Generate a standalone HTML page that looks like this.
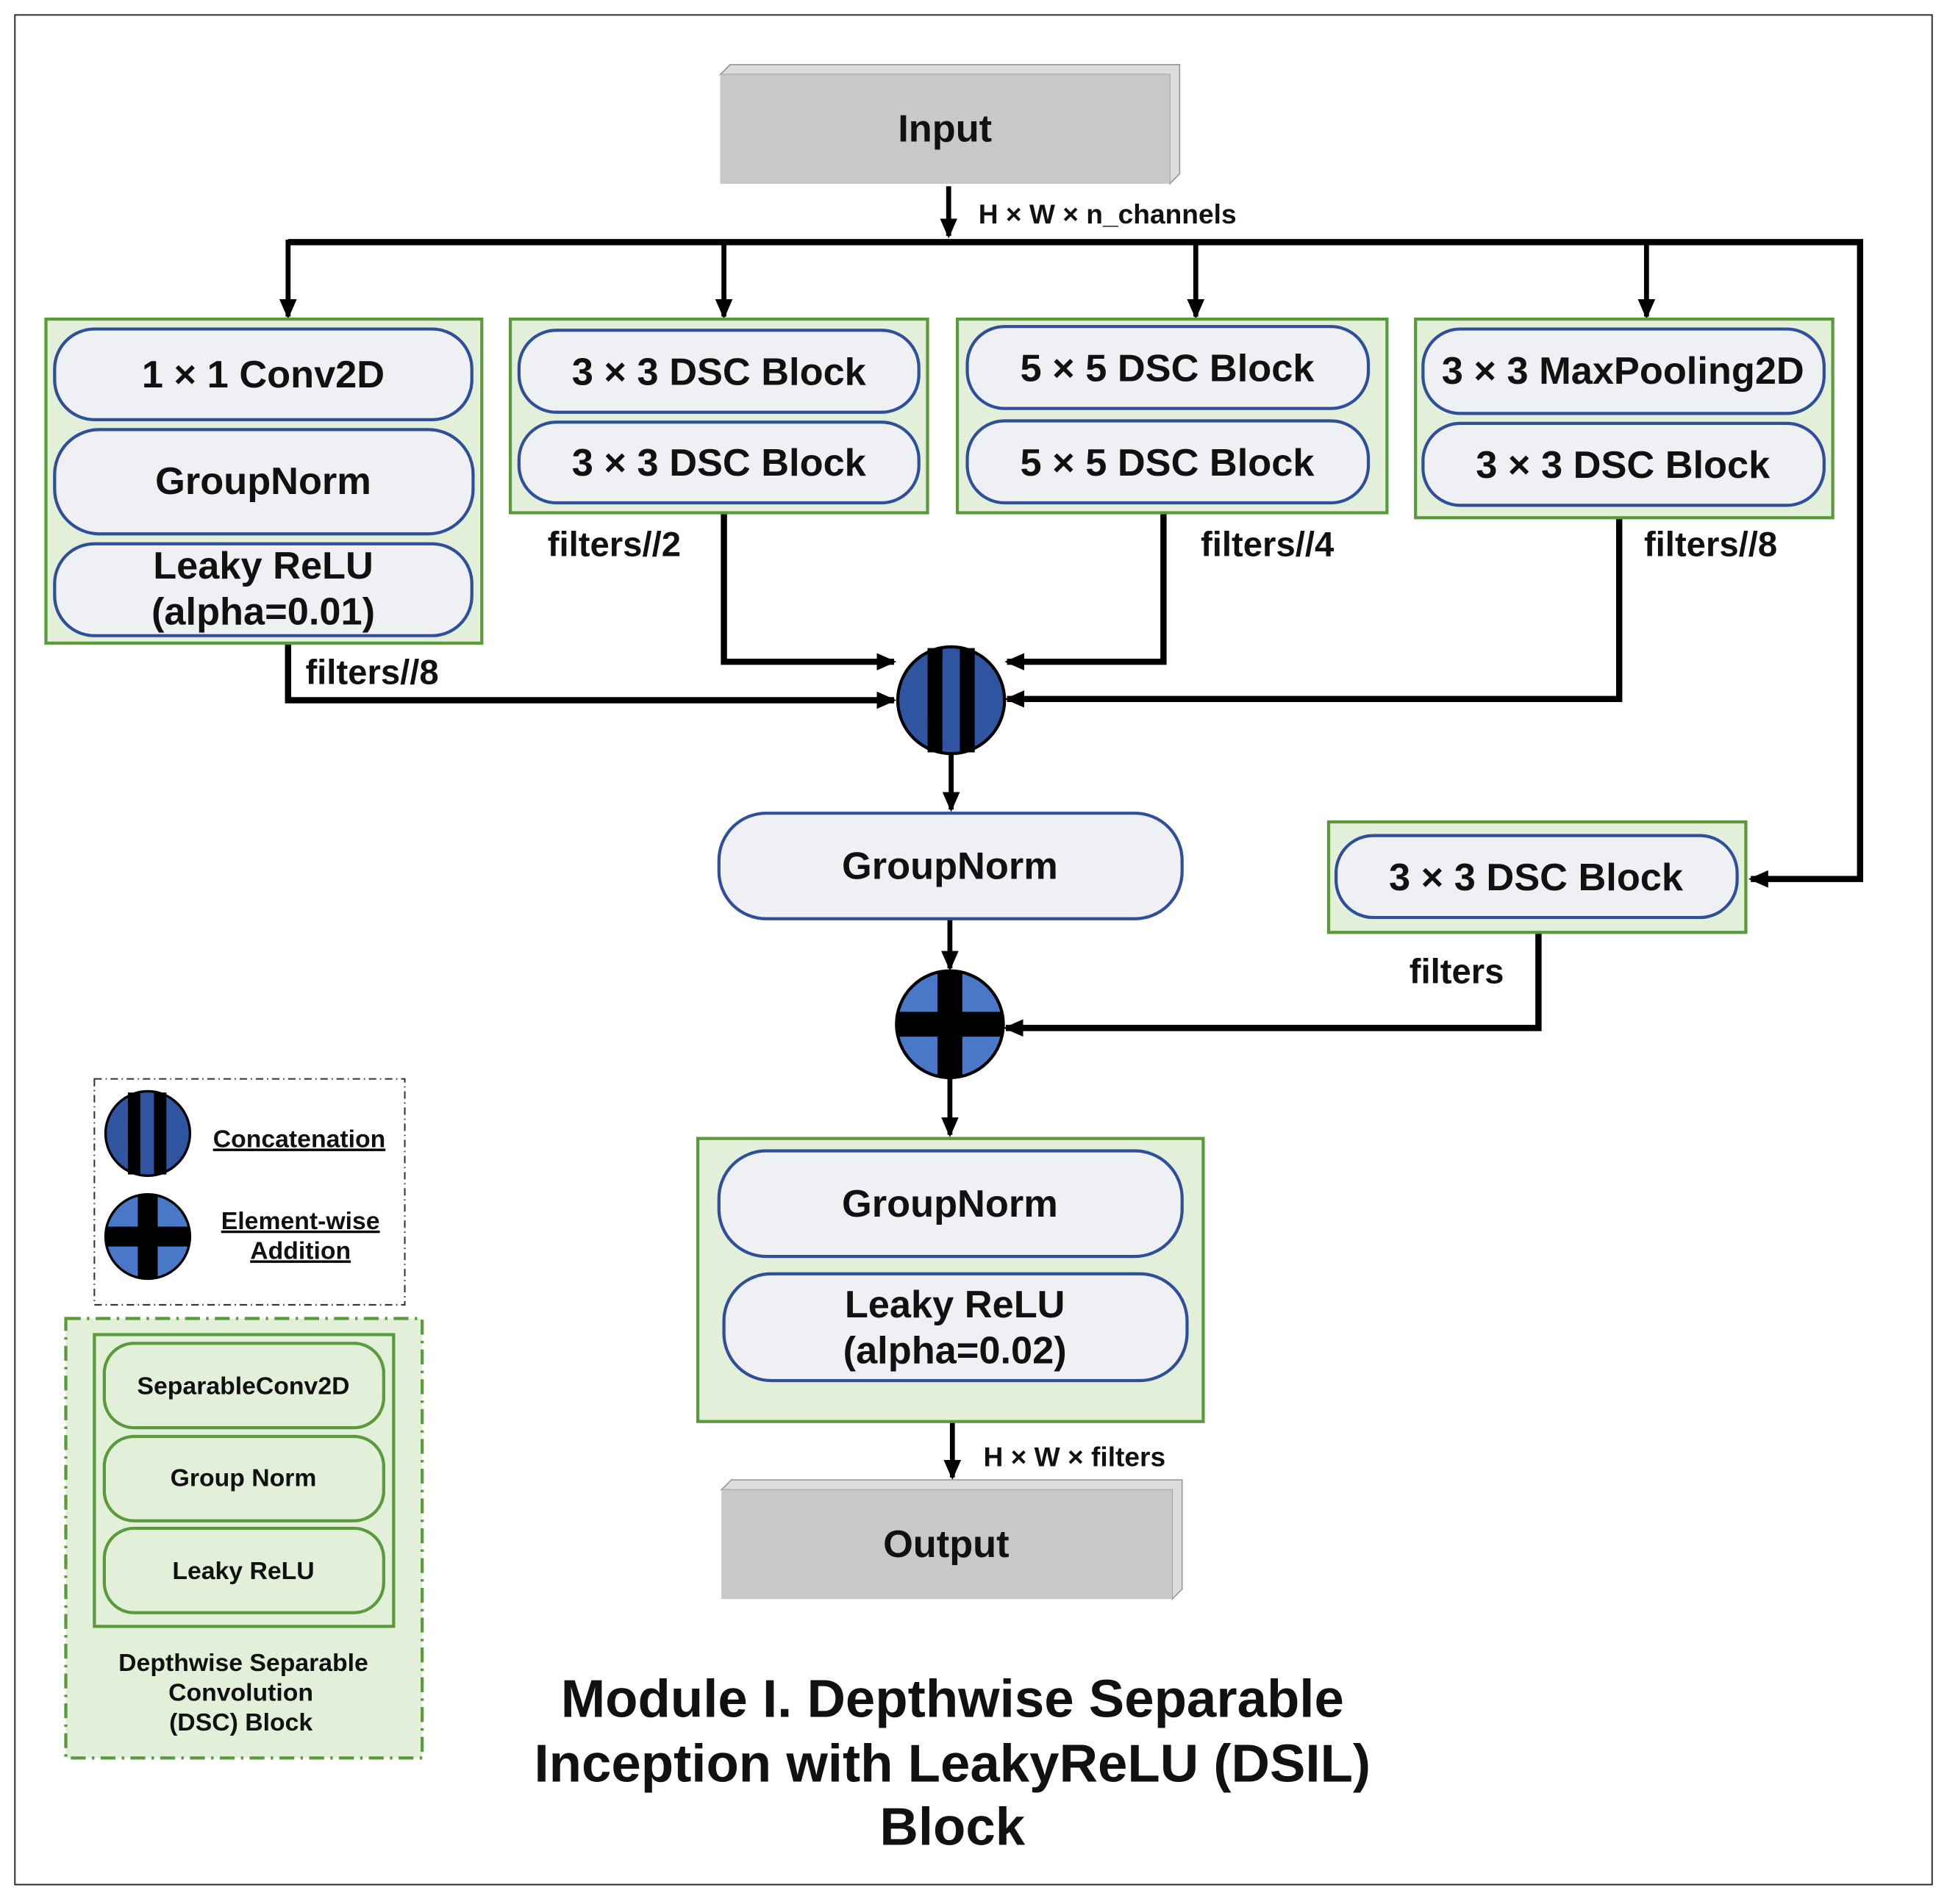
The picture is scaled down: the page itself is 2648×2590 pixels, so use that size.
<!DOCTYPE html>
<html><head><meta charset="utf-8"><style>
html,body{margin:0;padding:0;background:#fff;}
svg{display:block;}
text{font-family:"Liberation Sans",Arial,sans-serif;font-weight:bold;fill:#111;}
</style></head><body>
<svg width="2648" height="2590" viewBox="0 0 1568 1533.6" xmlns="http://www.w3.org/2000/svg">
<defs>
<marker id="ah" markerWidth="16" markerHeight="14" refX="14" refY="7" orient="auto" markerUnits="userSpaceOnUse">
<path d="M0,0 L16,7 L0,14 z" fill="#000"/></marker>
</defs>
<rect x="0" y="0" width="1568" height="1534" fill="#fff"/>
<rect x="12" y="12" width="1544" height="1506" fill="none" stroke="#333" stroke-width="1.2"/>

<!-- Input -->
<polygon points="580,60 588,52 950,52 950,140 942,148 942,60" fill="#dcdcdc" stroke="#999"/>
<rect x="580" y="60" width="362" height="88" fill="#c8c8c8"/>
<text x="761" y="114" font-size="31" text-anchor="middle">Input</text>

<g stroke="#000" stroke-width="5" fill="none">
<line x1="764" y1="150" x2="764" y2="190" marker-end="url(#ah)" stroke-width="4"/>
<polyline points="232,195 1498,195 1498,708 1410,708" marker-end="url(#ah)" stroke-width="5"/>
<line x1="583" y1="195" x2="583" y2="255" marker-end="url(#ah)" stroke-width="4"/>
<line x1="963" y1="195" x2="963" y2="255" marker-end="url(#ah)" stroke-width="4"/>
<line x1="1326" y1="195" x2="1326" y2="255" marker-end="url(#ah)" stroke-width="4"/>
<line x1="232" y1="193" x2="232" y2="255" marker-end="url(#ah)" stroke-width="4"/>
<polyline points="583,413 583,533 720,533" marker-end="url(#ah)" stroke-width="5"/>
<polyline points="937,413 937,533 811,533" marker-end="url(#ah)" stroke-width="5"/>
<polyline points="1304,417 1304,563 811,563" marker-end="url(#ah)" stroke-width="5"/>
<polyline points="232,518 232,564 720,564" marker-end="url(#ah)" stroke-width="5"/>
<line x1="766" y1="608" x2="766" y2="652" marker-end="url(#ah)" stroke-width="4"/>
<line x1="765" y1="740" x2="765" y2="780" marker-end="url(#ah)" stroke-width="4"/>
<polyline points="1239,751 1239,828 810,828" marker-end="url(#ah)" stroke-width="5"/>
<line x1="765" y1="868" x2="765" y2="914" marker-end="url(#ah)" stroke-width="4"/>
<line x1="767" y1="1145" x2="767" y2="1190" marker-end="url(#ah)" stroke-width="4"/>
</g>
<text x="788" y="180" font-size="22">H × W × n_channels</text>

<g fill="#e2efd9" stroke="#5a9a3a" stroke-width="2.5">
<rect x="37" y="257" width="351" height="261"/>
<rect x="411" y="257" width="336" height="156"/>
<rect x="771" y="257" width="346" height="156"/>
<rect x="1140" y="257" width="336" height="160"/>
<rect x="1070" y="662" width="336" height="89"/>
<rect x="562" y="917" width="407" height="228"/>
</g>
<g fill="#eef0f3" stroke="#2f4f9a" stroke-width="2.5">
<rect x="44" y="265" width="336" height="73" rx="32"/>
<rect x="44" y="346" width="337" height="84" rx="36"/>
<rect x="44" y="438" width="336" height="74" rx="32"/>
<rect x="418" y="266" width="322" height="66" rx="30"/>
<rect x="418" y="340" width="322" height="65" rx="30"/>
<rect x="779" y="263" width="323" height="66" rx="30"/>
<rect x="779" y="339" width="323" height="66" rx="30"/>
<rect x="1146" y="265" width="323" height="68" rx="30"/>
<rect x="1146" y="341" width="323" height="66" rx="30"/>
<rect x="579" y="655" width="373" height="85" rx="38"/>
<rect x="1076" y="673" width="323" height="66" rx="30"/>
<rect x="579" y="927" width="373" height="85" rx="38"/>
<rect x="583" y="1026" width="373" height="86" rx="38"/>
</g>
<g font-size="31" text-anchor="middle">
<text x="212" y="312">1 × 1 Conv2D</text>
<text x="212" y="398">GroupNorm</text>
<text x="212" y="466">Leaky ReLU</text>
<text x="212" y="503">(alpha=0.01)</text>
<text x="579" y="310">3 × 3 DSC Block</text>
<text x="579" y="383">3 × 3 DSC Block</text>
<text x="940" y="307">5 × 5 DSC Block</text>
<text x="940" y="383">5 × 5 DSC Block</text>
<text x="1307" y="309">3 × 3 MaxPooling2D</text>
<text x="1307" y="385">3 × 3 DSC Block</text>
<text x="765" y="708">GroupNorm</text>
<text x="1237" y="717">3 × 3 DSC Block</text>
<text x="765" y="980">GroupNorm</text>
<text x="769" y="1061">Leaky ReLU</text>
<text x="769" y="1098">(alpha=0.02)</text>
</g>
<g font-size="28">
<text x="441" y="448">filters//2</text>
<text x="967" y="448">filters//4</text>
<text x="1324" y="448">filters//8</text>
<text x="246" y="551">filters//8</text>
<text x="1135" y="792">filters</text>
</g>

<!-- concat -->
<circle cx="766" cy="564" r="43" fill="#2f55a0" stroke="#000" stroke-width="2.5"/>
<rect x="747" y="522" width="12" height="84" fill="#000"/>
<rect x="773" y="522" width="12" height="84" fill="#000"/>
<!-- plus -->
<circle cx="765" cy="825" r="43" fill="#4a78c8" stroke="#000" stroke-width="2.5"/>
<rect x="755" y="782" width="20" height="86" fill="#000"/>
<rect x="722" y="815" width="86" height="20" fill="#000"/>

<text x="792" y="1181" font-size="22">H × W × filters</text>

<!-- Output -->
<polygon points="581,1200 589,1192 952,1192 952,1280 944,1288 944,1200" fill="#dcdcdc" stroke="#999"/>
<rect x="581" y="1200" width="363" height="88" fill="#c8c8c8"/>
<text x="762" y="1254" font-size="31" text-anchor="middle">Output</text>

<!-- legend -->
<rect x="76" y="869" width="250" height="182" fill="none" stroke="#333" stroke-width="1.2" stroke-dasharray="6,3,1,3"/>
<circle cx="119" cy="913" r="34" fill="#2f55a0" stroke="#000" stroke-width="2"/>
<rect x="103" y="880" width="10" height="66" fill="#000"/>
<rect x="124" y="880" width="10" height="66" fill="#000"/>
<circle cx="119" cy="996" r="34" fill="#4a78c8" stroke="#000" stroke-width="2"/>
<rect x="111" y="962" width="16" height="68" fill="#000"/>
<rect x="85" y="988" width="68" height="16" fill="#000"/>
<g font-size="20" text-anchor="middle" text-decoration="underline">
<text x="241" y="924">Concatenation</text>
<text x="242" y="990">Element-wise</text>
<text x="242" y="1014">Addition</text>
</g>

<rect x="53" y="1062" width="287" height="354" fill="#e2efd9" stroke="#5a9a3a" stroke-width="2.5" stroke-dasharray="12,5,2,5"/>
<rect x="76" y="1075" width="241" height="235" fill="none" stroke="#5a9a3a" stroke-width="2.5"/>
<g fill="#e2efd9" stroke="#5a9a3a" stroke-width="2.5">
<rect x="84" y="1082" width="225" height="68" rx="24"/>
<rect x="84" y="1157" width="225" height="68" rx="24"/>
<rect x="84" y="1231" width="225" height="68" rx="24"/>
</g>
<g font-size="20" text-anchor="middle">
<text x="196" y="1123">SeparableConv2D</text>
<text x="196" y="1197">Group Norm</text>
<text x="196" y="1272">Leaky ReLU</text>
<text x="196" y="1346">Depthwise Separable</text>
<text x="194" y="1370">Convolution</text>
<text x="194" y="1394">(DSC) Block</text>
</g>

<g font-size="43" text-anchor="middle">
<text x="767" y="1383">Module I. Depthwise  Separable</text>
<text x="767" y="1435">Inception with LeakyReLU (DSIL)</text>
<text x="767" y="1486">Block</text>
</g>
</svg>
</body></html>
